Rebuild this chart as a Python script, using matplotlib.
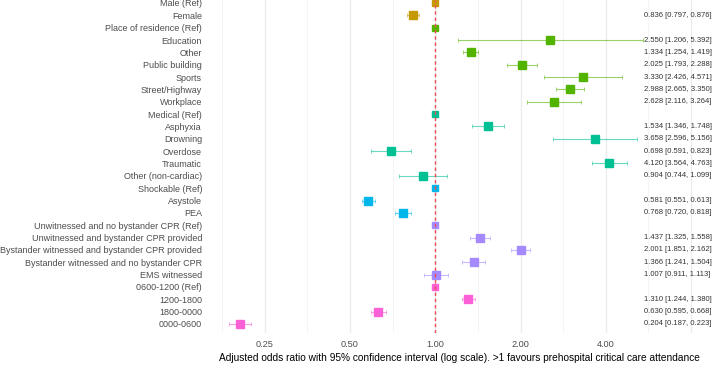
import numpy as np
import matplotlib
matplotlib.use("Agg")
import matplotlib.pyplot as plt
from matplotlib.ticker import FixedLocator, NullFormatter

plt.rcParams['font.family'] = ['Liberation Sans', 'DejaVu Sans']

labels = ["Male (Ref)", "Female", "Place of residence (Ref)", "Education", "Other",
          "Public building", "Sports", "Street/Highway", "Workplace", "Medical (Ref)",
          "Asphyxia", "Drowning", "Overdose", "Traumatic", "Other (non-cardiac)",
          "Shockable (Ref)", "Asystole", "PEA",
          "Unwitnessed and no bystander CPR (Ref)", "Unwitnessed and bystander CPR provided",
          "Bystander witnessed and bystander CPR provided",
          "Bystander witnessed and no bystander CPR", "EMS witnessed",
          "0600-1200 (Ref)", "1200-1800", "1800-0000", "0000-0600"]
odds = [1.0, 0.836, 1.0, 2.550, 1.334, 2.025, 3.330, 2.988, 2.628, 1.0,
        1.534, 3.658, 0.698, 4.120, 0.904, 1.0, 0.581, 0.768,
        1.0, 1.437, 2.001, 1.366, 1.007, 1.0, 1.310, 0.630, 0.204]
lower = [np.nan, 0.797, np.nan, 1.206, 1.254, 1.793, 2.426, 2.665, 2.116, np.nan,
         1.346, 2.596, 0.591, 3.564, 0.744, np.nan, 0.551, 0.720,
         np.nan, 1.325, 1.851, 1.241, 0.911, np.nan, 1.244, 0.595, 0.187]
upper = [np.nan, 0.876, np.nan, 5.392, 1.419, 2.288, 4.571, 3.350, 3.264, np.nan,
         1.748, 5.156, 0.823, 4.763, 1.099, np.nan, 0.613, 0.818,
         np.nan, 1.558, 2.162, 1.504, 1.113, np.nan, 1.380, 0.668, 0.223]
group = [0, 0, 1, 1, 1, 1, 1, 1, 1, 2, 2, 2, 2, 2, 2, 3, 3, 3,
         4, 4, 4, 4, 4, 5, 5, 5, 5]
colours = ["#C49A00", "#53B400", "#00C094", "#00B6EB", "#A58AFF", "#FB61D7"]
xticks = [0.25, 0.5, 1.0, 2.0, 4.0, 8.0]
xticklabels = ["0.25", "0.50", "1.00", "2.00", "4.00", ""]

W, H = 713, 373
fig = plt.figure(figsize=(W / 100, H / 100), dpi=100)
ax = fig.add_axes([218 / W, 1 - 333 / H, (700 - 218) / W, 333 / H])
ax.set_xscale('log', base=2)

y = np.arange(len(labels))
for i in y:
    c = colours[group[i]]
    if not np.isnan(lower[i]):
        ax.errorbar(odds[i], i, xerr=[[odds[i] - lower[i]], [upper[i] - odds[i]]],
                    fmt='none', ecolor=c, alpha=0.6, elinewidth=0.8, capsize=1.2,
                    capthick=0.6, zorder=2)
        ax.text(5.45, i, "%.3f [%.3f, %.3f]" % (odds[i], lower[i], upper[i]),
                fontsize=5.5, color="#333333", va='center', ha='left')
        ms = 5.2
    else:
        ms = 4.6
    ax.plot(odds[i], i, 's', color=c, markersize=ms, zorder=3)

ax.axvline(1.0, color="#F04E57", linestyle=(0, (2.5, 2.0)), linewidth=1.0, zorder=4)

ax.set_xlim(0.171, 8.6)
ax.set_ylim(26.73, -0.24)
ax.xaxis.set_major_locator(FixedLocator(xticks))
ax.set_xticklabels(xticklabels)
ax.xaxis.set_minor_locator(FixedLocator([t * np.sqrt(2) for t in [0.125] + xticks]))
ax.xaxis.set_minor_formatter(NullFormatter())
ax.grid(True, which='major', axis='x', color="#EBEBEB", linewidth=0.9)
ax.grid(True, which='minor', axis='x', color="#F2F2F2", linewidth=0.6)
ax.set_axisbelow(True)

ax.set_yticks(y)
ax.set_yticklabels(labels)
ax.tick_params(axis='y', length=0, pad=11.5, labelsize=6.45, labelcolor="#4D4D4D")
ax.tick_params(axis='x', which='both', length=0, pad=5, labelsize=6.6, labelcolor="#4D4D4D")
for s in ax.spines.values():
    s.set_visible(False)

ax.set_xlabel("Adjusted odds ratio with 95% confidence interval (log scale). "
              ">1 favours prehospital critical care attendance",
              fontsize=7.25, color="black", labelpad=3)

fig.savefig("out.png", dpi=100)
